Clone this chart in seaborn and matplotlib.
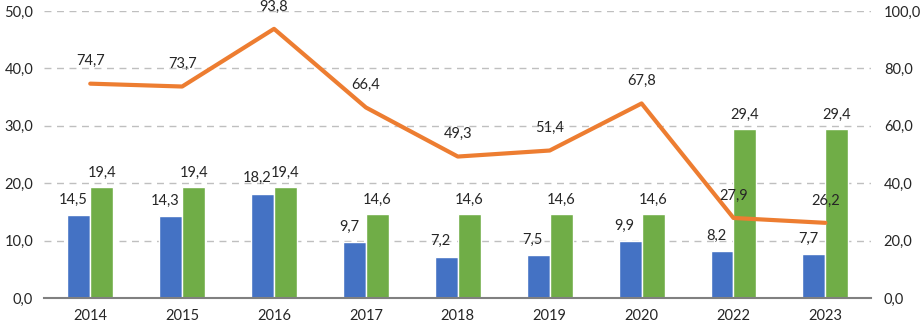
import matplotlib
matplotlib.use("Agg")
import matplotlib.pyplot as plt
import seaborn as sns
import pandas as pd
import numpy as np

years = ["2014", "2015", "2016", "2017", "2018", "2019", "2020", "2022", "2023"]
blue_vals = [14.5, 14.3, 18.2, 9.7, 7.2, 7.5, 9.9, 8.2, 7.7]
green_vals = [19.4, 19.4, 19.4, 14.6, 14.6, 14.6, 14.6, 29.4, 29.4]
line_vals = [74.7, 73.7, 93.8, 66.4, 49.3, 51.4, 67.8, 27.9, 26.2]

sns.set_style("white")
plt.rcParams["font.family"] = ["Lato", "DejaVu Sans"]

fmt = lambda v: f"{v:.1f}".replace(".", ",")

df = pd.DataFrame({"year": years * 2,
                   "value": blue_vals + green_vals,
                   "series": ["a"] * len(years) + ["b"] * len(years)})

fig, ax = plt.subplots(figsize=(9.23, 3.25), dpi=100)
fig.subplots_adjust(left=0.048, right=0.944, top=0.966, bottom=0.083)

sns.barplot(data=df, x="year", y="value", hue="series",
            palette=["#4472C4", "#70AD47"], width=0.5, saturation=1,
            ax=ax, legend=False)
ax.set_xlim(-0.5, len(years) - 0.5)
ax.set_ylim(0, 50)
ax.set_yticks(np.arange(0, 51, 10))
ax.set_yticklabels([fmt(v) for v in np.arange(0, 51, 10)])
ax.set_xlabel("")
ax.set_ylabel("")
ax.yaxis.grid(True, linestyle=(0, (5, 4)), color="#BFBFBF", linewidth=1)
ax.set_axisbelow(True)
for s in ["top", "left", "right"]:
    ax.spines[s].set_visible(False)
ax.spines["bottom"].set_color("#808080")
ax.spines["bottom"].set_linewidth(1.5)
ax.tick_params(axis="both", length=0, labelsize=10.5, colors="#262626", pad=8)

for i, (b, g) in enumerate(zip(blue_vals, green_vals)):
    ax.annotate(fmt(b), (i - 0.125, b), xytext=(-4, 6), textcoords="offset points",
                ha="center", va="bottom", fontsize=10.5, color="#262626")
    ax.annotate(fmt(g), (i + 0.125, g), xytext=(0, 5), textcoords="offset points",
                ha="center", va="bottom", fontsize=10.5, color="#262626")

ax2 = ax.twinx()
sns.lineplot(x=list(range(len(years))), y=line_vals, color="#ED7D31",
             linewidth=3, ax=ax2)
ax2.set_ylim(0, 100)
ax2.set_yticks(np.arange(0, 101, 20))
ax2.set_yticklabels([fmt(v) for v in np.arange(0, 101, 20)])
for s in ["top", "left", "right", "bottom"]:
    ax2.spines[s].set_visible(False)
ax2.tick_params(axis="y", length=0, labelsize=10.5, colors="#262626", pad=9)
for i, v in enumerate(line_vals):
    ax2.annotate(fmt(v), (i, v), xytext=(0, 11), textcoords="offset points",
                 ha="center", va="bottom", fontsize=10.5, color="#262626")

fig.savefig("out.png", dpi=100)
